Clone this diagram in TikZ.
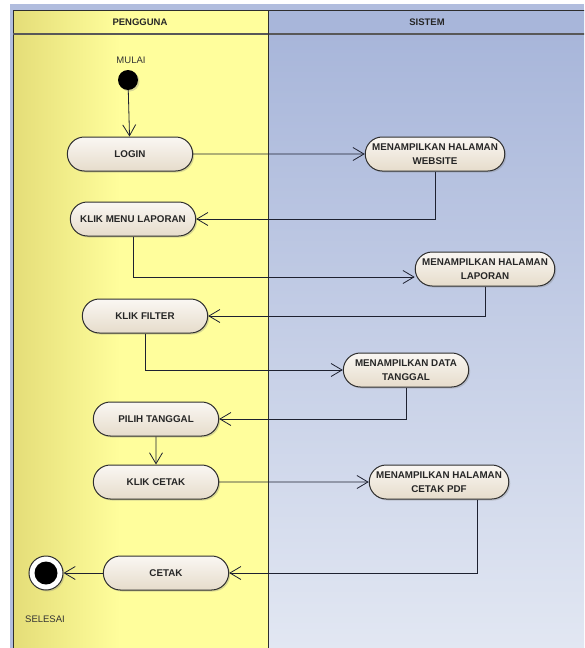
\documentclass[tikz,border=0pt]{standalone}
\usepackage{fontspec}
\setmainfont{Liberation Sans}
\usepackage{tikz}
\usetikzlibrary{arrows.meta, shapes.misc, shadows}

\definecolor{kuningA}{HTML}{E4DD78}
\definecolor{kuningB}{HTML}{FFFE9C}
\definecolor{biruA}{HTML}{A8B6DA}
\definecolor{biruB}{HTML}{E3E8F3}
\definecolor{garis}{HTML}{2E2E2E}
\definecolor{panah}{HTML}{1E2130}
\definecolor{aksiA}{HTML}{FAF7F3}
\definecolor{aksiB}{HTML}{E6DCCB}

\begin{document}
\begin{tikzpicture}[x=1pt, y=-1pt,
        aksi/.style={rounded rectangle, draw=garis, line width=1pt,
            top color=aksiA, bottom color=aksiB, minimum width=132pt,
            minimum height=34pt, inner ysep=6pt, align=center,
            font=\fontsize{9.8}{14}\selectfont\bfseries, text=black!85,
            drop shadow={opacity=0.3, shadow xshift=1.5pt, shadow yshift=-1.5pt}},
        alur/.style={-{Straight Barb[length=11pt, width=13pt]}, draw=panah, line width=0.8pt},
        teks/.style={font=\fontsize{9.5}{11}\selectfont, text=black!80},
        judul/.style={font=\fontsize{9.5}{11}\selectfont\bfseries, text=black!85}]
        \useasboundingbox (0,0) rectangle (584,648);
        \clip (0,0) rectangle (584,648);
        % latar dan jalur
        \fill[biruA!90!white] (10,4) rectangle (584,648);
        \shade[left color=kuningA, right color=kuningB] (13,10) rectangle (120,660);
        \fill[kuningB] (120,10) rectangle (268,660);
        \fill[biruA] (268,10) rectangle (600,34);
        \shade[top color=biruA, bottom color=biruB] (268,34) rectangle (600,660);
        \draw[garis, line width=1pt] (13,660) -- (13,10) -- (600,10);
        \draw[garis!80, line width=2pt] (13,34) -- (600,34);
        \draw[garis, line width=1pt] (268,10) -- (268,660);
        \node[judul] (pengguna) at (140,22) {PENGGUNA};
        \node[judul] (sistem) at (427,22) {SISTEM};
        % simpul
        \node[teks] (mulai) at (131,60) {MULAI};
        \node[circle, fill=black, minimum size=20pt, inner sep=0pt,
            drop shadow={opacity=0.3, shadow xshift=1.5pt, shadow yshift=-1.5pt}] (awal) at (128,80) {};
        \node[aksi] (login) at (130,154) {LOGIN};
        \node[aksi] (web) at (435,154) {MENAMPILKAN HALAMAN\\WEBSITE};
        \node[aksi] (menu) at (133,219) {KLIK MENU LAPORAN};
        \node[aksi] (lap) at (485,269) {MENAMPILKAN HALAMAN\\LAPORAN};
        \node[aksi] (filter) at (145,316) {KLIK FILTER};
        \node[aksi] (tgl) at (406,370) {MENAMPILKAN DATA\\TANGGAL};
        \node[aksi] (pilih) at (156,419) {PILIH TANGGAL};
        \node[aksi] (klik) at (156,482) {KLIK CETAK};
        \node[aksi] (pdf) at (439,482) {MENAMPILKAN HALAMAN\\CETAK PDF};
        \node[aksi] (cetak) at (166,573) {CETAK};
        \node[circle, draw=garis, line width=1pt, fill=white, minimum size=34pt, inner sep=0pt,
            drop shadow={opacity=0.3, shadow xshift=1.5pt, shadow yshift=-1.5pt}] (akhir) at (46,573) {};
        \fill[black] (akhir) circle (11.5);
        \node[teks] (selesai) at (45,619) {SELESAI};
        % alur
        \draw[alur] (awal) -- (login);
        \draw[alur] (login) -- (web);
        \draw[alur] (web.south) |- (menu.east);
        \draw[alur] (menu.south) |- ([yshift=-8pt]lap.west);
        \draw[alur] (lap.south) |- (filter.east);
        \draw[alur] (filter.south) |- (tgl.west);
        \draw[alur] (tgl.south) |- (pilih.east);
        \draw[alur] (pilih) -- (klik);
        \draw[alur] (klik) -- (pdf);
        \draw[alur] ([xshift=38pt]pdf.south) |- (cetak.east);
        \draw[alur] (cetak) -- (akhir);
\end{tikzpicture}
\end{document}
